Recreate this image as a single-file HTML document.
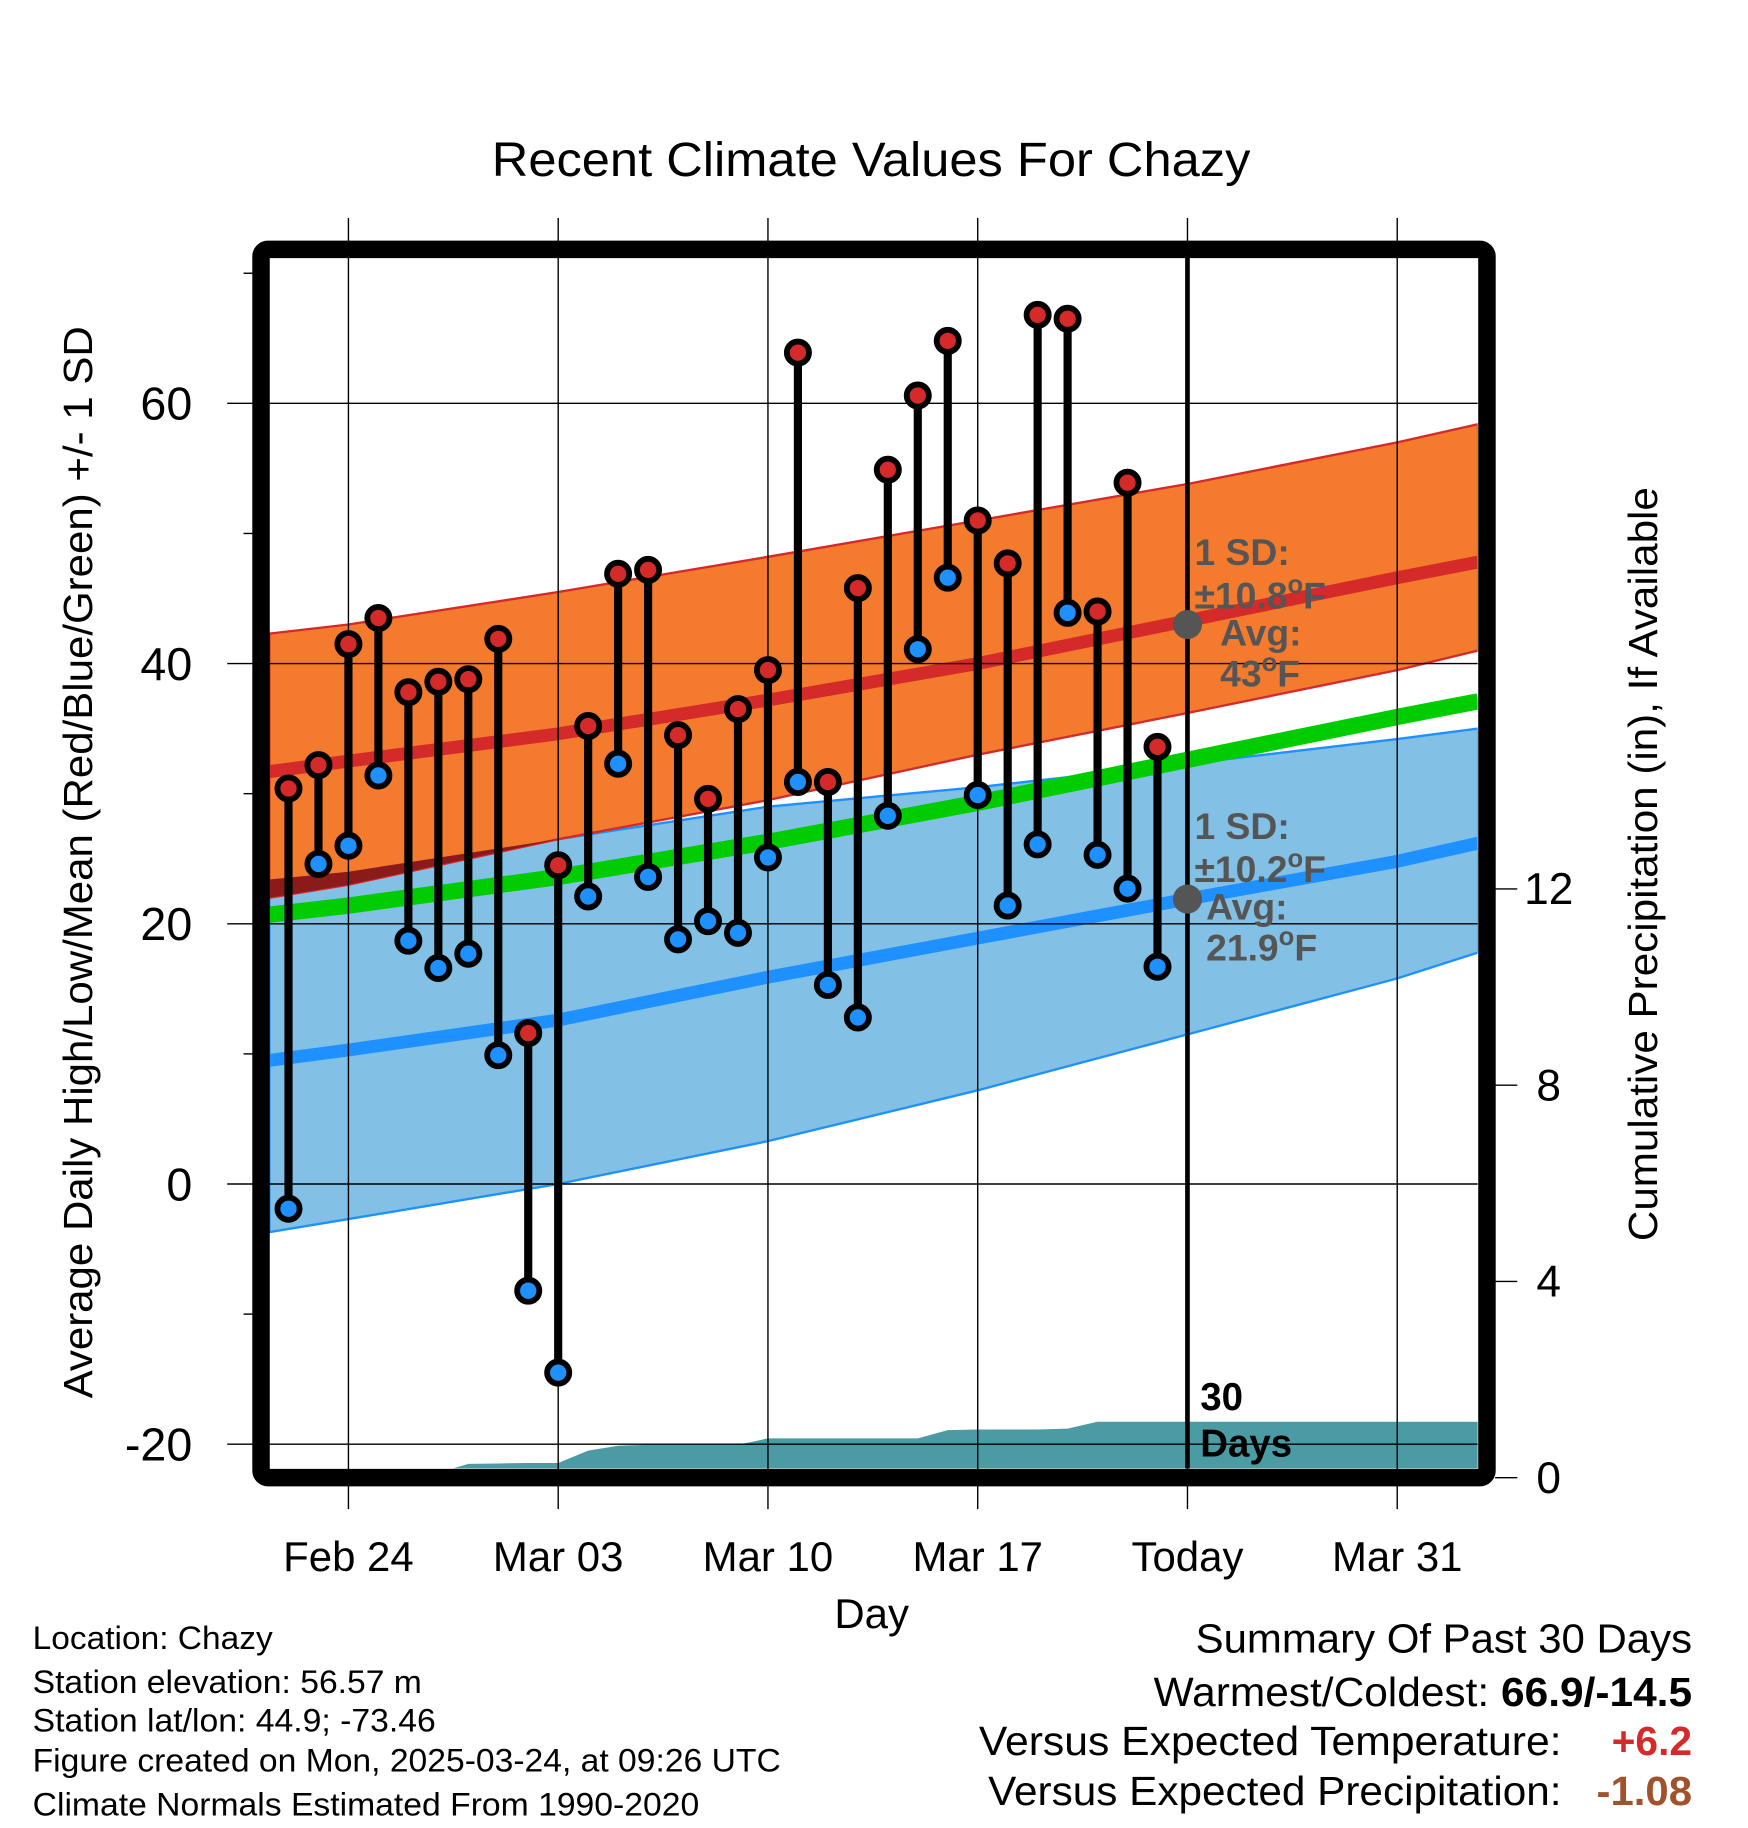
<!DOCTYPE html>
<html><head><meta charset="utf-8"><style>
html,body{margin:0;padding:0;background:#fff;}
svg{display:block;font-family:"Liberation Sans",Arial,sans-serif;}
</style></head><body>
<svg id="chart" width="1748" height="1828" viewBox="0 0 1500 1568.6" xmlns="http://www.w3.org/2000/svg">
<text x="422" y="151" font-size="41" textLength="651" lengthAdjust="spacingAndGlyphs">Recent Climate Values For Chazy</text>
<g id="bands"></g>
<g id="grid"></g>
<g id="marks"></g>
<g id="axes"></g>
<text transform="translate(79,1200) rotate(-90)" font-size="35" textLength="920" lengthAdjust="spacingAndGlyphs">Average Daily High/Low/Mean (Red/Blue/Green) +/- 1 SD</text>
<text transform="translate(1422,1065) rotate(-90)" font-size="35" textLength="647" lengthAdjust="spacingAndGlyphs">Cumulative Precipitation (in), If Available</text>
<text x="748" y="1397" font-size="36" text-anchor="middle">Day</text>
<g font-size="32" font-weight="bold" fill="#555">
<text x="1025" y="485">1 SD:</text>
<text x="1025" y="522">±10.8<tspan dy="-13" font-size="22">o</tspan><tspan dy="13">F</tspan></text>
<text x="1047" y="554">Avg:</text>
<text x="1047" y="589">43<tspan dy="-13" font-size="22">o</tspan><tspan dy="13">F</tspan></text>
<text x="1025" y="720">1 SD:</text>
<text x="1025" y="757">±10.2<tspan dy="-13" font-size="22">o</tspan><tspan dy="13">F</tspan></text>
<text x="1035" y="789">Avg:</text>
<text x="1035" y="824">21.9<tspan dy="-13" font-size="22">o</tspan><tspan dy="13">F</tspan></text>
</g>
<g font-size="33" font-weight="bold">
<text x="1030" y="1210">30</text><text x="1030" y="1250">Days</text>
</g>
<g font-size="28" lengthAdjust="spacingAndGlyphs">
<text x="28" y="1415" textLength="206" lengthAdjust="spacingAndGlyphs">Location: Chazy</text>
<text x="28" y="1453" textLength="334" lengthAdjust="spacingAndGlyphs">Station elevation: 56.57 m</text>
<text x="28" y="1486" textLength="346" lengthAdjust="spacingAndGlyphs">Station lat/lon: 44.9; -73.46</text>
<text x="28" y="1520" textLength="642" lengthAdjust="spacingAndGlyphs">Figure created on Mon, 2025-03-24, at 09:26 UTC</text>
<text x="28" y="1558" textLength="572" lengthAdjust="spacingAndGlyphs">Climate Normals Estimated From 1990-2020</text>
</g>
<g font-size="35">
<text x="1026" y="1418" textLength="426" lengthAdjust="spacingAndGlyphs">Summary Of Past 30 Days</text>
<text x="990" y="1464" textLength="462" lengthAdjust="spacingAndGlyphs">Warmest/Coldest: <tspan font-weight="bold">66.9/-14.5</tspan></text>
<text x="840" y="1506" textLength="500" lengthAdjust="spacingAndGlyphs">Versus Expected Temperature:</text>
<text x="1383" y="1506" font-weight="bold" fill="#d42a2a" textLength="69" lengthAdjust="spacingAndGlyphs">+6.2</text>
<text x="848" y="1549" textLength="492" lengthAdjust="spacingAndGlyphs">Versus Expected Precipitation:</text>
<text x="1370" y="1549" font-weight="bold" fill="#a0522d" textLength="82" lengthAdjust="spacingAndGlyphs">-1.08</text>
</g>
</svg>
<script>
const normDays=[-2.64,0,7,14,21,28,35,37.7];
const highMean=[31.7,32.5,34.6,37.2,40.0,43.3,46.6,47.8];
const highUpper=[42.3,43,45.5,48.2,51,53.8,57,58.4];
const highLower=[22,23,26.5,29.5,33,36.2,39.5,41];
const lowMean=[9.5,10.3,12.6,15.9,18.9,21.9,24.8,26.2];
const lowUpper=[23.4,24,26.5,29,30.5,32.3,34.2,35.0];
const lowLower=[-3.7,-2.7,0,3.3,7.2,11.5,15.8,17.8];
const avgMean=[20.7,21.4,23.6,26.3,29.3,32.6,35.9,37.1];
const obsDays=[-2,-1,0,1,2,3,4,5,6,7,8,9,10,11,12,13,14,15,16,17,18,19,20,21,22,23,24,25,26,27];
const highs=[30.4,32.2,41.5,43.5,37.8,38.6,38.8,41.9,11.6,24.5,35.2,46.9,47.2,34.5,29.6,36.5,39.5,63.9,30.9,45.8,54.9,60.6,64.8,51.0,47.7,66.8,66.5,44.0,53.9,33.6];
const lows=[-1.9,24.6,26.0,31.4,18.7,16.6,17.7,9.9,-8.2,-14.5,22.1,32.3,23.6,18.8,20.2,19.3,25.1,30.9,15.3,12.8,28.3,41.1,46.6,29.9,21.4,26.1,43.9,25.3,22.7,16.7];
const precipDays=[-2,-1,0,1,2,3,4,5,6,7,8,9,10,11,12,13,14,15,16,17,18,19,20,21,22,23,24,25,26,27,28,37.7];
const precipCum=[0,0,0,0,0,0.1,0.28,0.29,0.3,0.3,0.55,0.65,0.67,0.67,0.67,0.67,0.8,0.8,0.8,0.8,0.8,0.8,0.97,0.98,0.98,0.98,1.0,1.14,1.14,1.14,1.14,1.14];
const yTicks=[60,40,20,0,-20];
const yMinor=[70,50,30,10,-10];
const pTicks=[0,4,8,12];
const xTickDays=[0,7,14,21,28,35];
const xTickLabels=["Feb 24","Mar 03","Mar 10","Mar 17","Today","Mar 31"];
const todayDay=28, todayHighAvg=43, todayLowAvg=21.9;

const L=231,R=1268,T=221,B=1260;
const x=d=>299+25.714*d;
const y=v=>1016-11.165*v;
const yp=p=>1268-42.1*p;
const NS="http://www.w3.org/2000/svg";
function mk(parent,tag,attrs){const e=document.createElementNS(NS,tag);for(const k in attrs)e.setAttribute(k,attrs[k]);parent.appendChild(e);return e;}
const pts=(ds,vs,f)=>ds.map((d,i)=>x(d).toFixed(1)+","+f(vs[i]).toFixed(1));
const bands=document.getElementById('bands'),grid=document.getElementById('grid'),marks=document.getElementById('marks'),axes=document.getElementById('axes');
let clip=mk(bands,'clipPath',{id:'pc'});mk(clip,'rect',{x:L,y:T,width:R-L,height:B-T});
bands.setAttribute('clip-path','url(#pc)');

let e;
e=mk(bands,'polygon',{points:pts(normDays,lowUpper,y).concat(pts(normDays,lowLower,y).reverse()).join(' '),fill:'#82c0e6',stroke:'#1e90ff','stroke-width':2});


e=mk(bands,'polygon',{points:pts(normDays,highUpper,y).concat(pts(normDays,highLower,y).reverse()).join(' '),fill:'#f47a2d',stroke:'#d42a2a','stroke-width':2});


const ovDays=[],ovTop=[],ovBot=[];
normDays.forEach((d,i)=>{if(highLower[i]<lowUpper[i]){ovDays.push(d);ovTop.push(lowUpper[i]);ovBot.push(highLower[i]);}});
if(ovDays.length){ovDays.push(normDays[ovDays.length]);ovTop.push(lowUpper[ovDays.length-1]);ovBot.push(lowUpper[ovDays.length-1]);
e=mk(bands,'polygon',{points:pts(ovDays,ovTop,y).concat(pts(ovDays,ovBot,y).reverse()).join(' '),fill:'#8b1a1a'});

}
e=mk(bands,'polyline',{points:pts(normDays,lowMean,y).join(' '),fill:'none',stroke:'#1e90ff','stroke-width':11});


e=mk(bands,'polyline',{points:pts(normDays,highMean,y).join(' '),fill:'none',stroke:'#d42a2a','stroke-width':11});


e=mk(bands,'polyline',{points:pts(normDays,avgMean,y).join(' '),fill:'none',stroke:'#00cc00','stroke-width':14});


let pp=[];precipDays.forEach((d,i)=>{pp.push(x(d).toFixed(1)+","+yp(precipCum[i]).toFixed(1));});
pp.push(x(precipDays[precipDays.length-1])+","+yp(0));pp.push(x(precipDays[0])+","+yp(0));
pp.unshift(L+","+yp(precipCum[0]));
e=mk(bands,'polygon',{points:pp.join(' '),fill:'#4a9ba3'});



yTicks.forEach(v=>{e=mk(grid,'line',{x1:195,x2:R,y1:y(v),y2:y(v),stroke:'#000','stroke-width':1.2});

});
xTickDays.forEach(d=>{e=mk(grid,'line',{x1:x(d),x2:x(d),y1:187,y2:1295,stroke:'#000','stroke-width':1.2});

});
e=mk(grid,'line',{x1:x(todayDay),x2:x(todayDay),y1:T,y2:B,stroke:'#000','stroke-width':4});



obsDays.forEach((d,i)=>{
 e=mk(marks,'line',{x1:x(d),x2:x(d),y1:y(highs[i]),y2:y(lows[i]),stroke:'#000','stroke-width':7});
 
 
});
obsDays.forEach((d,i)=>{
 e=mk(marks,'circle',{cx:x(d),cy:y(highs[i]),r:9.5,fill:'#d42a2a',stroke:'#000','stroke-width':5});
 
 
 e=mk(marks,'circle',{cx:x(d),cy:y(lows[i]),r:9.5,fill:'#1e90ff',stroke:'#000','stroke-width':5});
 
 
});
e=mk(marks,'circle',{cx:x(todayDay),cy:y(todayHighAvg),r:12.5,fill:'#555'});


e=mk(marks,'circle',{cx:x(todayDay),cy:y(todayLowAvg),r:12.5,fill:'#555'});



e=mk(axes,'rect',{x:224,y:214,width:1052,height:1054,rx:6,fill:'none',stroke:'#000','stroke-width':15});


yTicks.forEach(v=>{e=mk(axes,'text',{x:165,y:y(v)+14,'font-size':40,'text-anchor':'end'});e.textContent=v;

});
yMinor.forEach(v=>{e=mk(axes,'line',{x1:209,x2:217,y1:y(v),y2:y(v),stroke:'#000','stroke-width':1.2});

});
pTicks.forEach(p=>{e=mk(axes,'line',{x1:1283,x2:1302,y1:yp(p),y2:yp(p),stroke:'#000','stroke-width':1.2});


e=mk(axes,'text',{x:1329,y:yp(p)+13,'font-size':38,'text-anchor':'middle'});e.textContent=p;

});
xTickDays.forEach((d,i)=>{e=mk(axes,'text',{x:x(d),y:1348,'font-size':36,'text-anchor':'middle'});e.textContent=xTickLabels[i];

});
</script>
</body></html>
